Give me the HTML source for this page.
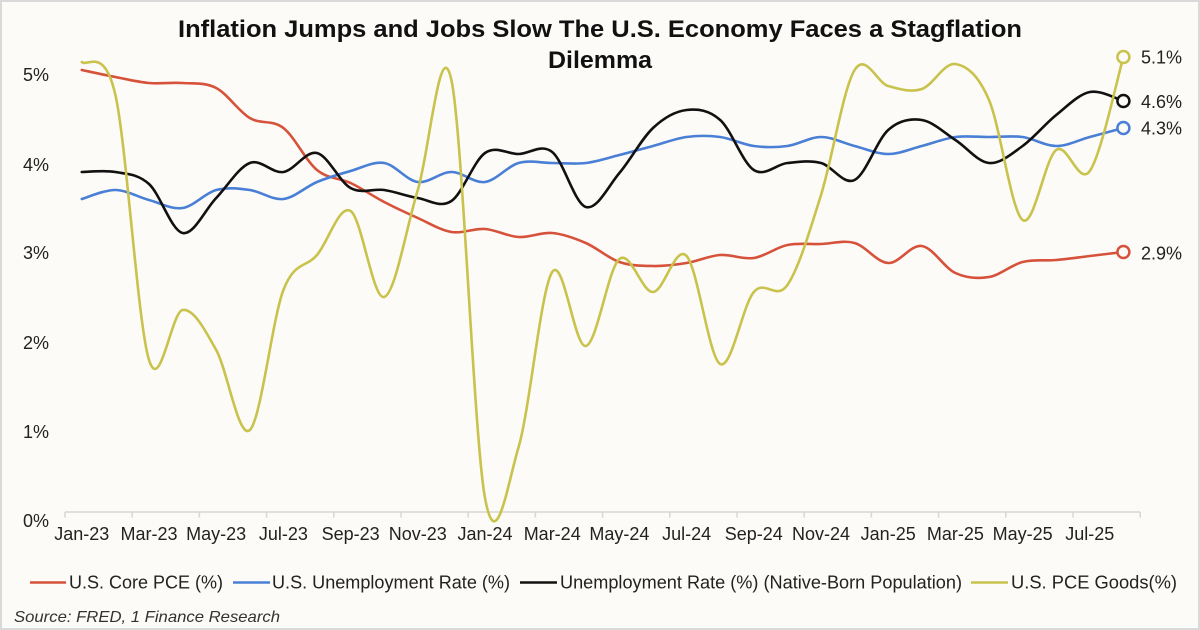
<!DOCTYPE html>
<html>
<head>
<meta charset="utf-8">
<style>
  html,body{margin:0;padding:0;background:#fcfbf7;}
  svg{display:block;}
  text{font-family:"Liberation Sans", Arial, sans-serif;}
</style>
</head>
<body>
<svg id="chart" width="1200" height="630" viewBox="0 0 1200 630" xmlns="http://www.w3.org/2000/svg">
  <rect x="0" y="0" width="1200" height="630" fill="#fcfbf7"/>
  <rect x="1" y="1" width="1198" height="628" fill="none" stroke="#d9d9d9" stroke-width="2"/>

  <!-- Title -->
  <text x="178" y="37" font-size="24" font-weight="bold" fill="#111" textLength="844" lengthAdjust="spacingAndGlyphs">Inflation Jumps and Jobs Slow The U.S. Economy Faces a Stagflation</text>
  <text x="548" y="68" font-size="24" font-weight="bold" fill="#111" textLength="104" lengthAdjust="spacingAndGlyphs">Dilemma</text>

  <!-- Y axis labels -->
  <g font-size="18" fill="#222" text-anchor="end">
    <text x="49" y="81">5%</text>
    <text x="49" y="171">4%</text>
    <text x="49" y="259">3%</text>
    <text x="49" y="349">2%</text>
    <text x="49" y="438">1%</text>
    <text x="49" y="527">0%</text>
  </g>

  <!-- X axis -->
  <g id="xaxis" stroke="#d6d6d6" stroke-width="1.5" fill="none">
    <line x1="65" y1="512" x2="1140.2" y2="512"/>
  </g>
  <g id="xlabels" font-size="18" fill="#222" text-anchor="middle"></g>

  <!-- Series -->
  <g fill="none" stroke-width="2.6" stroke-linejoin="round" stroke-linecap="round">
    <path id="sRed" stroke="#d6523b"/>
    <path id="sBlue" stroke="#4a7fd6"/>
    <path id="sBlack" stroke="#111111"/>
    <path id="sYellow" stroke="#c9c24c"/>
  </g>

  <!-- End markers -->
  <g fill="#fcfbf7" stroke-width="2.5">
    <circle cx="1123.4" cy="252" r="6" stroke="#d6523b"/>
    <circle cx="1123.4" cy="128" r="6" stroke="#4a7fd6"/>
    <circle cx="1123.4" cy="101" r="6" stroke="#111111"/>
    <circle cx="1123.4" cy="57" r="6" stroke="#c9c24c"/>
  </g>
  <g font-size="18" fill="#222">
    <text x="1141" y="63.5">5.1%</text>
    <text x="1141" y="108">4.6%</text>
    <text x="1141" y="134.5">4.3%</text>
    <text x="1141" y="259.5">2.9%</text>
  </g>

  <!-- Legend -->
  <g stroke-width="2.6">
    <line x1="30" y1="582.5" x2="66" y2="582.5" stroke="#d6523b"/>
    <line x1="233" y1="582.5" x2="270" y2="582.5" stroke="#4a7fd6"/>
    <line x1="520" y1="582.5" x2="557" y2="582.5" stroke="#111111"/>
    <line x1="971" y1="582.5" x2="1008" y2="582.5" stroke="#c9c24c"/>
  </g>
  <g font-size="18" fill="#222">
    <text x="69" y="588.5" textLength="154" lengthAdjust="spacingAndGlyphs">U.S. Core PCE (%)</text>
    <text x="272" y="588.5" textLength="238" lengthAdjust="spacingAndGlyphs">U.S. Unemployment Rate (%)</text>
    <text x="560" y="588.5" textLength="402" lengthAdjust="spacingAndGlyphs">Unemployment Rate (%) (Native-Born Population)</text>
    <text x="1011" y="588.5" textLength="166" lengthAdjust="spacingAndGlyphs">U.S. PCE Goods(%)</text>
  </g>

  <!-- Source -->
  <text x="14" y="622" font-size="16" font-style="italic" fill="#333" textLength="266" lengthAdjust="spacingAndGlyphs">Source: FRED, 1 Finance Research</text>
</svg>
<script>
(function(){
  var NS = "http://www.w3.org/2000/svg";
  function xs(i){ return 81.8 + 33.6*i; }
  function path(ys){
    var p = ys.map(function(y,i){ return [xs(i), y]; });
    var f = function(v){ return v.toFixed(2); };
    var d = "M" + f(p[0][0]) + "," + f(p[0][1]);
    for (var i=0;i<p.length-1;i++){
      var p0 = p[Math.max(i-1,0)], p1 = p[i], p2 = p[i+1], p3 = p[Math.min(i+2,p.length-1)];
      var c1 = [p1[0]+(p2[0]-p0[0])/6, p1[1]+(p2[1]-p0[1])/6];
      var c2 = [p2[0]-(p3[0]-p1[0])/6, p2[1]-(p3[1]-p1[1])/6];
      d += " C" + f(c1[0]) + "," + f(c1[1]) + " " + f(c2[0]) + "," + f(c2[1]) + " " + f(p2[0]) + "," + f(p2[1]);
    }
    return d;
  }
  var red = [70,77,83,83,88,118,128,170,183,202,218,232,229,237,233,243,262,266,263,255,258,245,244,243,263,246,273,277,262,260,256,252];
  var blue = [199,190,200,208,190,190,199,182,171,163,182,172,182,163,163,163,155,146,137,137,146,146,137,146,154,146,137,137,137,146,137,128];
  var black = [172,172,184,233,198,163,172,153,188,190,198,201,153,154,152,207,173,128,110,120,170,163,163,180,130,120,140,163,146,115,92,101];
  var yellow = [62,95,360,310,350,430,290,255,211,297,190,80,498,447,272,346,259,292,256,364,292,285,195,70,86,89,64,100,220,150,171,57];
  document.getElementById("sRed").setAttribute("d", path(red));
  document.getElementById("sBlue").setAttribute("d", path(blue));
  document.getElementById("sBlack").setAttribute("d", path(black));
  document.getElementById("sYellow").setAttribute("d", path(yellow));

  var ax = document.getElementById("xaxis");
  for (var k=0;k<=16;k++){
    var x = 65 + 67.2*k;
    var l = document.createElementNS(NS,"line");
    l.setAttribute("x1",x); l.setAttribute("x2",x);
    l.setAttribute("y1",512); l.setAttribute("y2",517.5);
    ax.appendChild(l);
  }
  var labels = ["Jan-23","Mar-23","May-23","Jul-23","Sep-23","Nov-23","Jan-24","Mar-24","May-24","Jul-24","Sep-24","Nov-24","Jan-25","Mar-25","May-25","Jul-25"];
  var g = document.getElementById("xlabels");
  labels.forEach(function(t,j){
    var e = document.createElementNS(NS,"text");
    e.setAttribute("x", xs(2*j));
    e.setAttribute("y", 540);
    e.textContent = t;
    g.appendChild(e);
  });
})();
</script>
</body>
</html>
